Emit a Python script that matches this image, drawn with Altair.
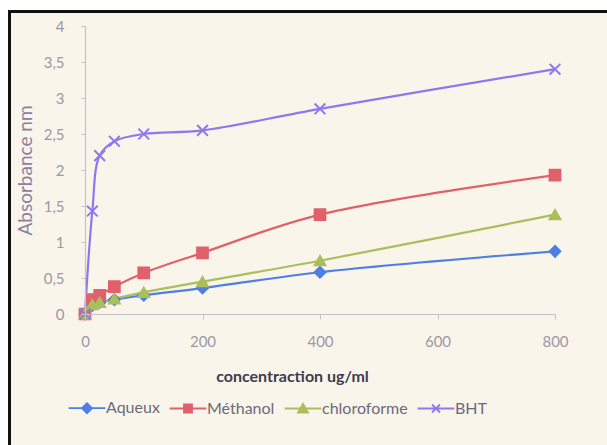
import altair as alt
import pandas as pd

# Concentrations (ug/ml) and absorbance readings per extract
concentration = [0, 12.5, 25, 50, 100, 200, 400, 800]
aqueux = [0, 0.12, 0.16, 0.20, 0.26, 0.36, 0.58, 0.87]
methanol = [0, 0.20, 0.26, 0.38, 0.57, 0.85, 1.38, 1.93]
chloroforme = [0, 0.13, 0.16, 0.21, 0.30, 0.45, 0.74, 1.38]
bht = [0, 1.43, 2.20, 2.40, 2.50, 2.55, 2.85, 3.40]

series_names = ["Aqueux", "Méthanol", "chloroforme", "BHT"]
series_values = [aqueux, methanol, chloroforme, bht]
series_colors = ["#4d7fe4", "#e0606c", "#a8bf5c", "#8f78ee"]

x_ticks = [0, 200, 400, 600, 800]
y_ticks = [0, 0.5, 1, 1.5, 2, 2.5, 3, 3.5, 4]

# plot markers (unit-space SVG paths / built-in shapes)
marker_shapes = ["diamond", "square", "triangle-up", "M-1,-1L1,1M-1,1L1,-1"]
# legend symbols: a short line segment with the marker in the middle
legend_shapes = [
    "M-4.6,0H4.6M-1.25,0L0,-1.25L1.25,0L0,1.25Z",
    "M-4.6,0H4.6M-1,-1H1V1H-1Z",
    "M-4.6,0H4.6M0,-1.15L1.25,1L-1.25,1Z",
    "M-4.6,0H4.6M-1,-1L1,1M-1,1L1,-1",
]

rows = []
for name, vals, shp in zip(series_names, series_values, marker_shapes):
    for c, v in zip(concentration, vals):
        rows.append({"conc": c, "abs": v, "series": name, "marker": shp})
df = pd.DataFrame(rows)

PLOT_W, PLOT_H = 470, 288
PAD = {"left": 85, "top": 26, "right": 607 - 85 - PLOT_W, "bottom": 445 - 26 - PLOT_H}

x_axis = alt.Axis(
    values=x_ticks,
    title="concentraction ug/ml",
    titleFontWeight="bold",
    titleColor="#3c3c4c",
    titleFontSize=16,
    titlePadding=19,
    titleX=207,
    titleAlign="center",
    labelPadding=15,
    labelOverlap=False,
    labelFlush=False,
    tickSize=5,
    grid=False,
    zindex=2,
)
y_axis = alt.Axis(
    values=y_ticks,
    title="Absorbance nm",
    titleColor="#8a82a2",
    titleFontWeight="normal",
    titleFontSize=19,
    titlePadding=8,
    labelExpr="replace(toString(datum.value), '.', ',')",
    labelOverlap=False,
    labelFlush=False,
    labelPadding=17,
    tickSize=4,
    grid=False,
    zindex=2,
)
x_scale = alt.Scale(domain=[0, 800], nice=False, zero=True)
y_scale = alt.Scale(domain=[0, 4], nice=False)


def xy():
    return {
        "x": alt.X("conc:Q", scale=x_scale, axis=x_axis),
        "y": alt.Y("abs:Q", scale=y_scale, axis=y_axis),
    }


def col_scale():
    return alt.Scale(domain=series_names, range=series_colors)


def legend_spec():
    return alt.Legend(title=None, orient="none", direction="horizontal",
                      legendX=-6, legendY=374)


base = alt.Chart(df)

lines = base.mark_line(interpolate="catmull-rom", strokeWidth=2.2).encode(
    **xy(),
    color=alt.Color("series:N", scale=col_scale(), legend=None),
    detail="series:N",
)

points = base.mark_point(filled=True, size=115, strokeWidth=2, opacity=1).encode(
    **xy(),
    shape=alt.Shape("marker:N", scale=None, legend=None),
    fill=alt.Fill("series:N", scale=col_scale(), legend=None),
    stroke=alt.Stroke("series:N", scale=col_scale(), legend=None),
)

# invisible layer that carries the legend
legend_layer = base.mark_point(filled=True, opacity=0).encode(
    **xy(),
    color=alt.Color("series:N", scale=col_scale(), legend=legend_spec()),
    stroke=alt.Stroke("series:N", scale=col_scale(), legend=legend_spec()),
    shape=alt.Shape(
        "series:N",
        scale=alt.Scale(domain=series_names, range=legend_shapes),
        legend=legend_spec(),
    ),
)

# cream panel with a black edge behind the chart
frame = alt.Chart(pd.DataFrame({"k": [0]})).mark_rect(
    fill="#faf5ea", stroke="#111111", strokeWidth=3
).encode(
    x=alt.value(-75.5),
    x2=alt.value(607 - 85 + 10),
    y=alt.value(-14.5),
    y2=alt.value(445 - 26 + 10),
)

chart = (
    alt.layer(frame, lines, points, legend_layer)
    .resolve_scale(color="independent", fill="independent", stroke="independent",
                   shape="independent")
    .properties(
        width=PLOT_W,
        height=PLOT_H,
        padding=PAD,
        autosize=alt.AutoSizeParams(type="none"),
        background="#ffffff",
    )
    .configure_view(stroke=None)
    .configure_axis(
        labelFont="Lato",
        titleFont="Lato",
        labelFontSize=15,
        labelColor="#9a98a6",
        domainColor="#c4c2c8",
        tickColor="#c4c2c8",
        domainWidth=1.2,
    )
    .configure_legend(
        labelFont="Lato",
        labelFontSize=16,
        labelColor="#6a6a7a",
        symbolSize=64,
        symbolStrokeWidth=1.8,
        symbolOpacity=1,
        labelOffset=11,
        columnPadding=6,
        zindex=2,
    )
)

chart.save("out.html", embed_options={"renderer": "svg", "actions": False})
